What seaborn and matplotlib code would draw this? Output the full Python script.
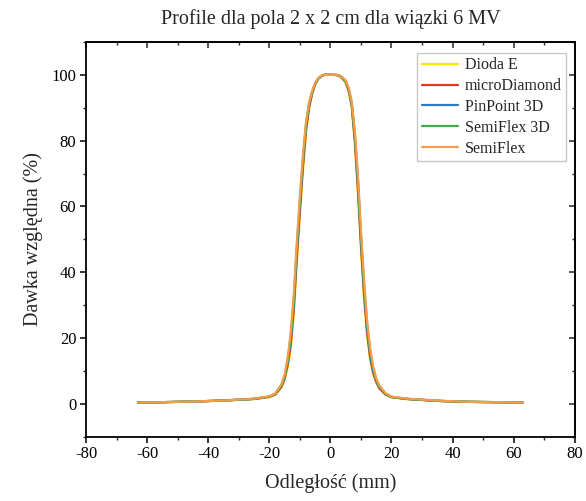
import pandas as pd
import numpy as np
import matplotlib
matplotlib.use("Agg")
import matplotlib.pyplot as plt
from matplotlib.ticker import MultipleLocator
import seaborn as sns

# odległość od osi wiązki (mm)
x_mm = [-63, -55, -45, -35, -25, -20, -18, -16, -15, -14, -13, -12, -11, -10, -9, -8, -7, -6, -5, -4, -3, -2, -1, 0,
        1, 2, 3, 4, 5, 6, 7, 8, 9, 10, 11, 12, 13, 14, 15, 16, 18, 20, 25, 35, 45, 55, 63]

dioda_e = [0.4, 0.5, 0.7, 1.0, 1.4, 2.0, 2.8, 5.0, 7.3, 11.0, 16.5, 27.0, 42.5, 57.0, 70.5, 82.0, 89.5, 94.0, 97.0, 98.7, 99.6, 100, 100, 100,
           100, 99.9, 99.6, 98.8, 97.6, 94.8, 90.0, 79.0, 64.0, 47.0, 32.0, 21.0, 13.5, 9.0, 6.4, 4.6, 2.8, 2.0, 1.4, 0.9, 0.6, 0.5, 0.4]
micro_diamond = [0.4, 0.5, 0.7, 1.0, 1.5, 2.1, 2.9, 5.2, 7.6, 11.8, 17.8, 28.5, 44.5, 58.5, 72.0, 83.0, 90.0, 94.3, 97.1, 98.8, 99.6, 100, 100, 100,
                 100, 99.9, 99.7, 98.9, 97.8, 95.2, 90.5, 80.0, 65.5, 48.5, 33.5, 22.0, 14.2, 9.5, 6.7, 4.8, 2.9, 2.0, 1.5, 0.9, 0.6, 0.5, 0.4]
pinpoint_3d = [0.4, 0.5, 0.7, 1.0, 1.5, 2.2, 3.0, 5.5, 8.0, 12.5, 19.0, 30.0, 46.0, 60.0, 73.0, 84.0, 90.5, 94.5, 97.2, 98.8, 99.6, 100, 100, 100,
               100, 100, 99.7, 99.0, 98.0, 95.5, 91.0, 81.0, 67.0, 50.0, 35.0, 23.0, 15.0, 10.0, 7.0, 5.0, 3.0, 2.1, 1.5, 0.9, 0.6, 0.5, 0.4]
semiflex_3d = [0.4, 0.5, 0.7, 1.0, 1.5, 2.2, 3.1, 5.7, 8.4, 13.2, 20.2, 31.5, 47.5, 61.5, 74.2, 84.8, 91.0, 94.8, 97.4, 98.9, 99.6, 100, 100, 100,
               100, 100, 99.7, 99.1, 98.1, 95.8, 91.4, 82.0, 68.5, 51.5, 36.5, 24.2, 16.0, 10.8, 7.4, 5.3, 3.1, 2.1, 1.5, 0.9, 0.6, 0.5, 0.4]
semiflex = [0.4, 0.5, 0.7, 1.0, 1.6, 2.3, 3.2, 6.0, 8.8, 14.0, 21.5, 33.0, 49.0, 63.0, 75.5, 85.5, 91.5, 95.0, 97.5, 99.0, 99.7, 100, 100, 100,
            100, 100, 99.8, 99.2, 98.3, 96.0, 91.8, 83.0, 70.0, 53.0, 38.0, 25.5, 17.0, 11.5, 7.8, 5.6, 3.3, 2.2, 1.6, 1.0, 0.6, 0.5, 0.4]

detectors = ["Dioda E", "microDiamond", "PinPoint 3D", "SemiFlex 3D", "SemiFlex"]
series = [dioda_e, micro_diamond, pinpoint_3d, semiflex_3d, semiflex]
colors = ["#FFE100", "#E3371E", "#2F78C0", "#3DAE4A", "#F39C4A"]

df = pd.concat([pd.DataFrame({"x": x_mm, "y": s, "detektor": d}) for d, s in zip(detectors, series)],
               ignore_index=True)

sns.set_style("ticks")
plt.rcParams["font.family"] = ["Liberation Serif", "DejaVu Serif"]
plt.rcParams["axes.unicode_minus"] = False

fig = plt.figure(figsize=(5.86, 5.01), dpi=100)
ax = fig.add_axes([0.1468, 0.1283, 0.834, 0.788])

sns.lineplot(data=df, x="x", y="y", hue="detektor", hue_order=detectors,
             palette=colors, sort=False, estimator=None, linewidth=1.6, ax=ax)

ax.set_xlim(-80, 80)
ax.set_ylim(-10, 110)
ax.xaxis.set_major_locator(MultipleLocator(20))
ax.xaxis.set_minor_locator(MultipleLocator(10))
ax.yaxis.set_major_locator(MultipleLocator(20))
ax.yaxis.set_minor_locator(MultipleLocator(10))
ax.tick_params(which="major", direction="out", length=4, width=1.1, labelsize=12, colors="black", pad=3)
ax.tick_params(which="minor", direction="out", length=2.5, width=1.0)
for sp in ax.spines.values():
    sp.set_visible(True)
    sp.set_linewidth(1.3)
    sp.set_color("black")

# ticki do środka na górnej i prawej osi
top = ax.secondary_xaxis("top")
top.xaxis.set_major_locator(MultipleLocator(20))
top.xaxis.set_minor_locator(MultipleLocator(10))
top.tick_params(which="major", direction="in", length=4, width=1.1, labeltop=False)
top.tick_params(which="minor", direction="in", length=2.5, width=1.0)
right = ax.secondary_yaxis("right")
right.yaxis.set_major_locator(MultipleLocator(20))
right.yaxis.set_minor_locator(MultipleLocator(10))
right.tick_params(which="major", direction="in", length=4, width=1.1, labelright=False)
right.tick_params(which="minor", direction="in", length=2.5, width=1.0)
for s in (top, right):
    for sp in s.spines.values():
        sp.set_linewidth(1.3)

ax.set_xlabel("Odległość (mm)", fontsize=14.5, labelpad=8)
ax.set_ylabel("Dawka względna (%)", fontsize=14.5, labelpad=6)
ax.set_title("Profile dla pola 2 x 2 cm dla wiązki 6 MV", fontsize=14.5, pad=13)

handles, labels = ax.get_legend_handles_labels()
ax.legend(handles, labels, loc="upper right", bbox_to_anchor=(0.983, 0.973), fontsize=11.5,
          frameon=True, fancybox=False, edgecolor="#c8c8c8", framealpha=1,
          handlelength=2.3, handletextpad=0.4, labelspacing=0.3, borderpad=0.3, borderaxespad=0)

fig.savefig("out.png", dpi=100)
